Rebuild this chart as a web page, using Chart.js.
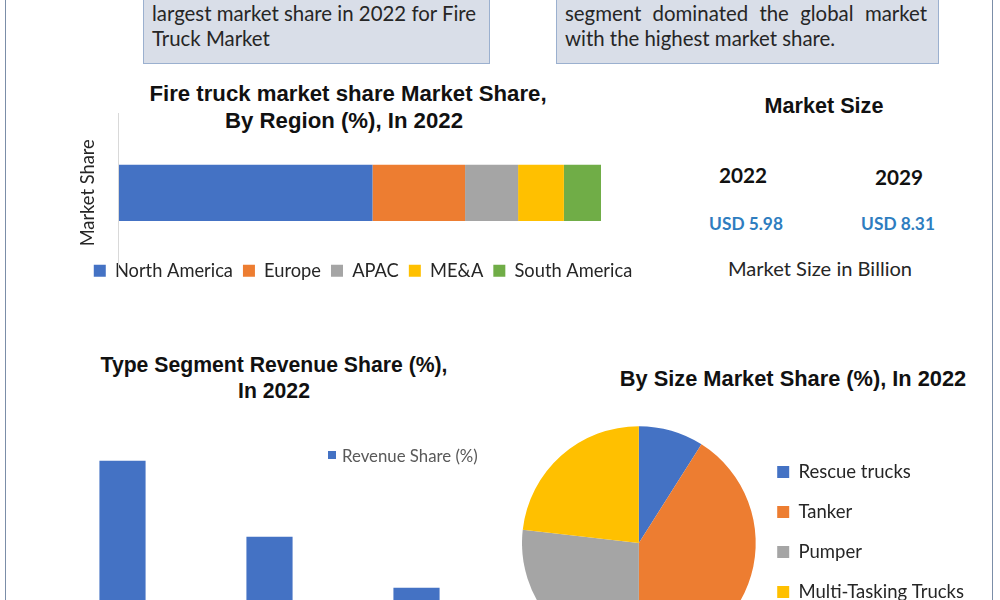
<!DOCTYPE html>
<html>
<head>
<meta charset="utf-8">
<script src="https://cdn.jsdelivr.net/npm/chart.js@4.4.0/dist/chart.umd.min.js"></script>
<style>
  html, body { margin: 0; padding: 0; width: 1000px; height: 600px; overflow: hidden; background: #fff; }
  body { position: relative; font-family: Lato, "Open Sans", sans-serif; color: #262626; }
  .frame { position: absolute; left: 5px; top: -10px; width: 986px; height: 720px; border: 1.5px solid #7b8ea8; }
  .note { position: absolute; top: -30px; height: 92px; background: #d9dee8; border: 1px solid #9bb0cf; }
  .line { position: absolute; font-size: 20.4px; line-height: 25px; white-space: nowrap; color: #262626; }
  .t { position: absolute; transform: translate(-50%, -50%); white-space: nowrap; }
  .title { font-family: "Liberation Sans", Arial, sans-serif; font-weight: bold; color: #111; }
  .year { font-weight: bold; font-size: 20.7px; color: #111; }
  .usd { font-weight: bold; font-size: 17.3px; color: #2e7dbf; }
  canvas { position: absolute; }
</style>
</head>
<body>
<div class="frame"></div>

<div class="note" style="left:143px; width:345px;"></div>
<div class="line" style="left:152px; top:1px;">largest market share in 2022 for Fire</div>
<div class="line" style="left:152px; top:26px;">Truck Market</div>

<div class="note" style="left:556px; width:381px;"></div>
<div class="line" style="left:565px; top:1px; width:362px; text-align:justify; text-align-last:justify;">segment dominated the global market</div>
<div class="line" style="left:565px; top:26px;">with the highest market share.</div>

<div class="t title" style="left:348px; top:94px; font-size:22.2px;">Fire truck market share Market Share,</div>
<div class="t title" style="left:344px; top:121px; font-size:22.2px;">By Region (%), In 2022</div>

<div class="t title" style="left:824px; top:106px; font-size:21.6px;">Market Size</div>
<div class="t year" id="year0" style="left:743px; top:175px;"></div>
<div class="t year" id="year1" style="left:899px; top:177px;"></div>
<div class="t usd" id="usd0" style="left:746px; top:223px;"></div>
<div class="t usd" id="usd1" style="left:898px; top:223px;"></div>
<div class="t" style="left:820px; top:268px; font-size:20.1px; color:#262626;">Market Size in Billion</div>

<div class="t title" style="left:274px; top:365px; font-size:21.2px;">Type Segment Revenue Share (%),</div>
<div class="t title" style="left:274px; top:391px; font-size:21.2px;">In 2022</div>
<div class="t title" style="left:793px; top:379px; font-size:21.8px;">By Size Market Share (%), In 2022</div>

<canvas id="regionChart" width="606" height="208" style="left:60px; top:103px;"></canvas>
<canvas id="typeChart" width="441" height="273" style="left:49px; top:407px;"></canvas>
<canvas id="sizeChart" width="452" height="286" style="left:522px; top:400px;"></canvas>

<div style="position:absolute; left:328px; top:451px; width:8px; height:8px; background:#4472c4;"></div>
<div class="t" id="typeLegend" style="left:342px; top:455px; transform:translate(0,-50%); font-size:16.8px; color:#595959;"></div>

<script>
// Region share, 2022 (%)
const regionNames = ['North America', 'Europe', 'APAC', 'ME&A', 'South America'];
const regionShare = [52.6, 19.2, 11.0, 9.5, 7.7];
const regionColors = ['#4472c4', '#ed7d31', '#a5a5a5', '#ffc000', '#70ad47'];

// Type segment revenue share (category names are cut off in the source)
const typeLabels = ['Type 1', 'Type 2', 'Type 3'];
const typeShare = [48.2, 31.5, 20.3];
const typeSeries = 'Revenue Share (%)';

// By size market share (%)
const sizeLabels = ['Rescue trucks', 'Tanker', 'Pumper', 'Multi-Tasking Trucks'];
const sizeShare = [9.0, 41.0, 26.8, 23.2];
const sizeColors = ['#4472c4', '#ed7d31', '#a5a5a5', '#ffc000'];

// Market size (USD billion)
const marketYears = ['2022', '2029'];
const marketValues = [5.98, 8.31];

const bodyFont = 'Lato, "Open Sans", sans-serif';

marketYears.forEach((y, i) => {
  document.getElementById('year' + i).textContent = y;
  document.getElementById('usd' + i).textContent = 'USD ' + marketValues[i].toFixed(2);
});
document.getElementById('typeLegend').textContent = typeSeries;

// excel lets the legend overlap the bottom of the plot area a bit
const legendLift = {
  id: 'legendLift',
  afterLayout(chart) {
    chart.legend.top -= 21;
    chart.legend.bottom -= 21;
  }
};

new Chart(document.getElementById('regionChart'), {
  type: 'bar',
  data: {
    labels: ['2022'],
    datasets: regionNames.map((name, i) => ({
      label: name,
      data: [regionShare[i]],
      backgroundColor: regionColors[i],
      borderWidth: 0,
      categoryPercentage: 0.352,
      barPercentage: 1
    }))
  },
  options: {
    indexAxis: 'y',
    responsive: false,
    animation: false,
    layout: { padding: { left: 0, right: 0, top: 10, bottom: 0 } },
    scales: {
      x: { stacked: true, min: 0, max: 100, display: false },
      y: {
        stacked: true,
        grid: { display: false, drawTicks: false },
        ticks: { display: false },
        border: { color: '#d9d9d9' },
        title: { display: true, text: 'Market Share', color: '#262626', font: { family: bodyFont, size: 18.3 }, padding: { top: 17, bottom: 20 } }
      },
      // empty right-hand axis only keeps room so the bar ends where the legend is wider
      yRight: {
        position: 'right',
        grid: { display: false, drawTicks: false },
        ticks: { display: false },
        border: { display: false },
        title: { display: true, text: '', font: { size: 10 }, padding: { top: 0, bottom: 53 } }
      }
    },
    plugins: {
      legend: {
        position: 'bottom',
        labels: { boxWidth: 12, boxHeight: 12, padding: 10, color: '#262626', font: { family: bodyFont, size: 18.3 } }
      },
      tooltip: { enabled: false }
    }
  },
  plugins: [legendLift]
});

new Chart(document.getElementById('typeChart'), {
  type: 'bar',
  data: {
    labels: typeLabels,
    datasets: [{
      label: typeSeries,
      data: typeShare,
      backgroundColor: '#4472c4',
      borderWidth: 0,
      categoryPercentage: 0.314,
      barPercentage: 1
    }]
  },
  options: {
    responsive: false,
    animation: false,
    layout: { padding: 0 },
    scales: {
      x: { display: false },
      y: { display: false, min: 0, max: 60 }
    },
    plugins: { legend: { display: false }, tooltip: { enabled: false } }
  }
});

new Chart(document.getElementById('sizeChart'), {
  type: 'pie',
  data: {
    labels: sizeLabels,
    datasets: [{ data: sizeShare, backgroundColor: sizeColors, borderWidth: 0 }]
  },
  options: {
    responsive: false,
    animation: false,
    layout: { padding: 0 },
    plugins: {
      legend: {
        position: 'right',
        align: 'start',
        title: { display: true, text: ' ', font: { size: 10 }, padding: { top: 0, bottom: 29.25 } },
        labels: { boxWidth: 12, boxHeight: 12, padding: 21.5, color: '#262626', font: { family: bodyFont, size: 18.5 } }
      },
      tooltip: { enabled: false }
    }
  }
});
</script>
</body>
</html>
